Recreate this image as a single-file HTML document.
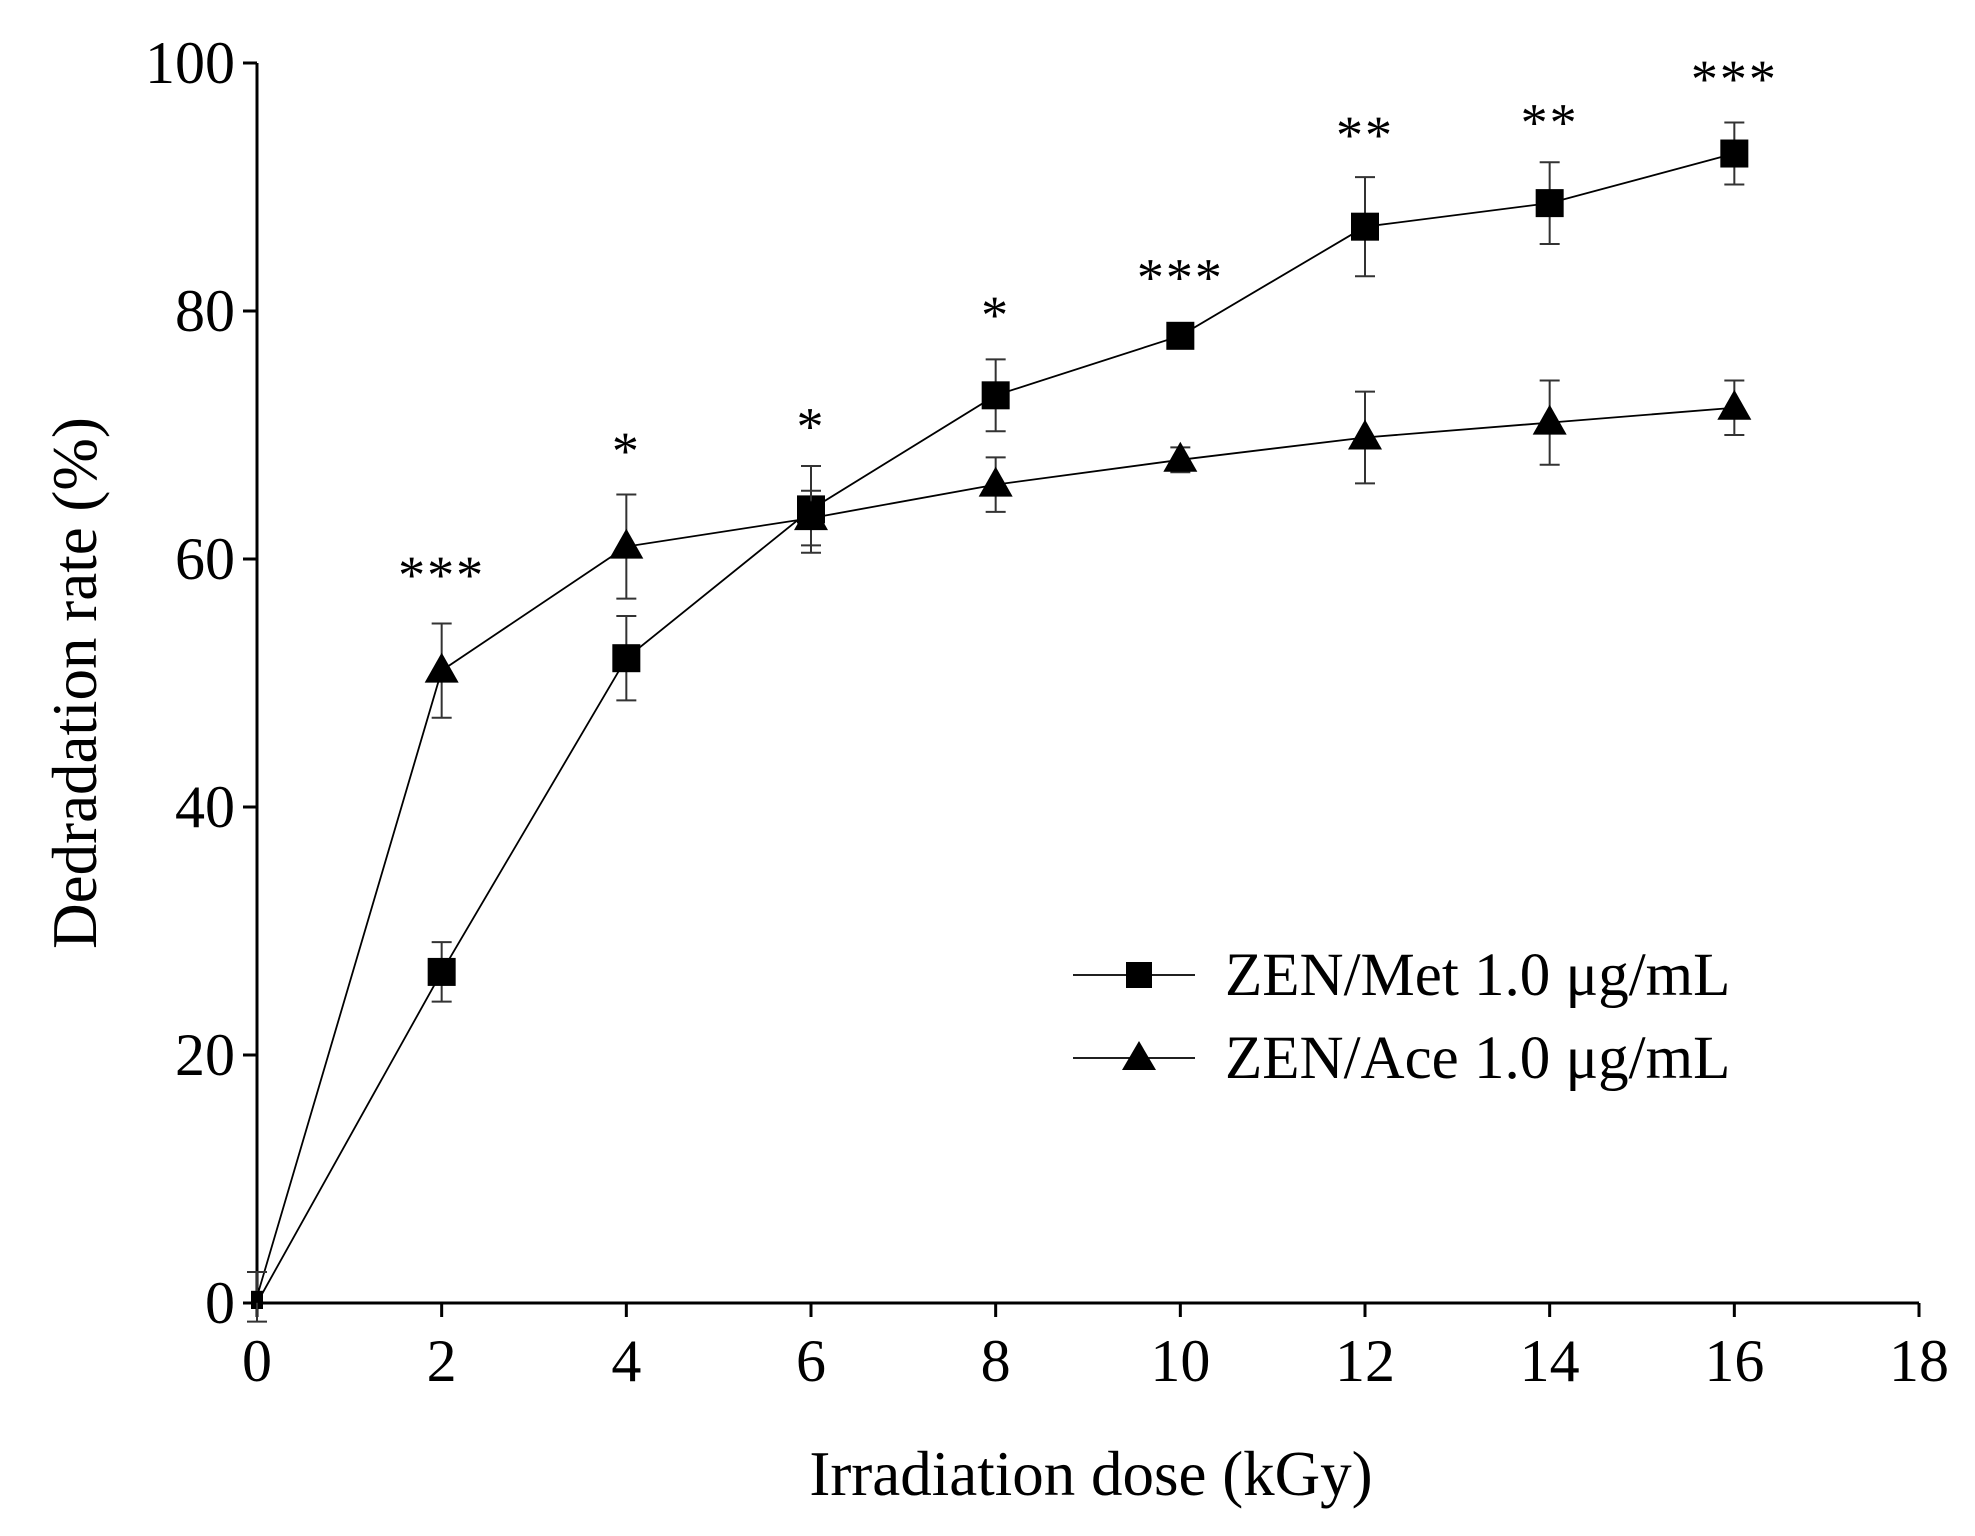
<!DOCTYPE html>
<html><head><meta charset="utf-8"><style>
html,body{margin:0;padding:0;background:#fff;}
svg{display:block;font-family:"Liberation Serif",serif;}
</style></head><body>
<svg id="chart" width="1975" height="1536" viewBox="0 0 1975 1536"></svg>
<script>
const xTicks=[0,2,4,6,8,10,12,14,16,18];
const yTicks=[0,20,40,60,80,100];
const doses=[0,2,4,6,8,10,12,14,16];
const metVals=[0,26.7,52,64,73.2,78,86.8,88.7,92.7];
const metErr=[0,2.4,3.4,3.5,2.9,0.6,4,3.3,2.5];
const aceVals=[0.5,51,61,63.3,66,68,69.8,71,72.2];
const aceErr=[2,3.8,4.2,2.2,2.2,1,3.7,3.4,2.2];
const sigLabels=["***","*","*","*","***","**","**","***"];
const sigDoses=[2,4,6,8,10,12,14,16];
const sigVals=[59.5,69.5,71.5,80.5,83.5,95,96,99.5];

const NS="http://www.w3.org/2000/svg";
const svg=document.getElementById('chart');
const X0=257,X1=1919,Y0=1303,Y1=63;
const sx=v=>X0+(v-0)/(18-0)*(X1-X0);
const sy=v=>Y0-(v-0)/(100-0)*(Y0-Y1);
function mk(tag,attrs,parent){const e=document.createElementNS(NS,tag);for(const k in attrs)e.setAttribute(k,attrs[k]);(parent||svg).appendChild(e);return e;}

const ax=mk('g',{});


mk('line',{x1:X0,y1:Y0,x2:X1,y2:Y0,stroke:'#000','stroke-width':3},ax);
mk('line',{x1:X0,y1:Y0+1.5,x2:X0,y2:Y1,stroke:'#000','stroke-width':3},ax);
xTicks.forEach(t=>{
  mk('line',{x1:sx(t),y1:Y0,x2:sx(t),y2:Y0+14,stroke:'#000','stroke-width':3},ax);
  const tx=mk('text',{x:sx(t),y:Y0+78,'text-anchor':'middle','font-size':60},ax);
  tx.textContent=t;
  
  
});
yTicks.forEach(t=>{
  mk('line',{x1:X0,y1:sy(t),x2:X0-14,y2:sy(t),stroke:'#000','stroke-width':3},ax);
  const tx=mk('text',{x:X0-22,y:sy(t)+20,'text-anchor':'end','font-size':60},ax);
  tx.textContent=t;
  
  
});
const xt=mk('text',{x:1091,y:1495,'text-anchor':'middle','font-size':63});
xt.textContent='Irradiation dose (kGy)';


const yt=mk('text',{x:0,y:0,'text-anchor':'middle','font-size':63,transform:'translate(96,683) rotate(-90)'});
yt.textContent='Dedradation rate (%)';



function series(vals,errs,shape,name){
  const g=mk('g',{});
  
  
  mk('polyline',{points:doses.map((d,i)=>sx(d)+','+sy(vals[i])).join(' '),fill:'none',stroke:'#000','stroke-width':1.8},g);
  doses.forEach((d,i)=>{
    const x=sx(d),yt=sy(vals[i]+errs[i]),yb=sy(vals[i]-errs[i]);
    if(errs[i]>0){
      const eb=mk('path',{d:`M${x},${yt}V${yb}M${x-10},${yt}H${x+10}M${x-10},${yb}H${x+10}`,stroke:'#333','stroke-width':2,fill:'none'},g);
      
      
    }
    const y=sy(vals[i]);
    let m;
    if(d===0) m=mk('rect',{x:x-6,y:y-6,width:12,height:12,fill:'#000'},g);
    else if(shape==='square') m=mk('rect',{x:x-14,y:y-14,width:28,height:28,fill:'#000'},g);
    else m=mk('polygon',{points:`${x},${y-18} ${x-17},${y+12} ${x+17},${y+12}`,fill:'#000'},g);
    
    
  });
}
series(metVals,metErr,'square','series-zen-met');
series(aceVals,aceErr,'triangle','series-zen-ace');

sigDoses.forEach((d,i)=>{
  const t=mk('text',{x:sx(d),y:sy(sigVals[i])+28,'text-anchor':'middle','font-size':54,'letter-spacing':2});
  t.textContent=sigLabels[i];
  
  
});

const lg=mk('g',{});


[[975,'square','ZEN/Met 1.0 μg/mL'],[1058,'triangle','ZEN/Ace 1.0 μg/mL']].forEach(([y,s,label])=>{
  const e=mk('g',{},lg);
  
  
  mk('line',{x1:1073,y1:y,x2:1195,y2:y,stroke:'#000','stroke-width':1.8},e);
  const x=1139;
  if(s==='square') mk('rect',{x:x-13,y:y-13,width:26,height:26,fill:'#000'},e);
  else mk('polygon',{points:`${x},${y-17} ${x-17},${y+12} ${x+17},${y+12}`,fill:'#000'},e);
  const t=mk('text',{x:1225,y:y+20,'font-size':61},e);
  t.textContent=label;
});
</script>
</body></html>
